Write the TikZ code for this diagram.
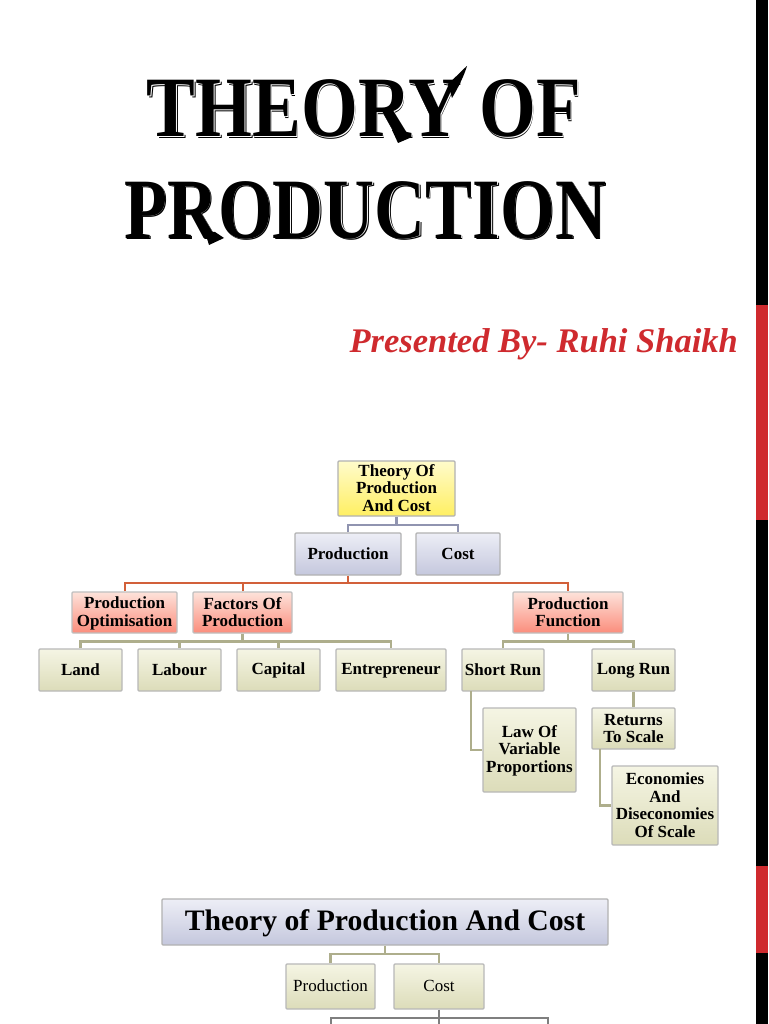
\documentclass[tikz,border=0pt]{standalone}
\usepackage{fontspec}
\setmainfont{Liberation Serif}
\usetikzlibrary{calc}
\definecolor{stripred}{HTML}{CF2A2E}
\definecolor{bluebus}{HTML}{9094B0}
\definecolor{orangebus}{HTML}{D2603A}
\definecolor{olivebus}{HTML}{AEAE8C}
\definecolor{greybus}{HTML}{7F7F7F}
\definecolor{FFFBCB}{HTML}{FFFBCB}\definecolor{FFEF62}{HTML}{FFEF62}
\definecolor{EDEEF6}{HTML}{EDEEF6}\definecolor{C4C7DD}{HTML}{C4C7DD}
\definecolor{FDE2DA}{HTML}{FDE2DA}\definecolor{FB8D7C}{HTML}{FB8D7C}
\definecolor{F5F5E4}{HTML}{F5F5E4}\definecolor{DCDCB9}{HTML}{DCDCB9}
\newcommand{\shadowtitle}[1]{{\color{black}\rlap{\kern1.6pt\raisebox{-1.6pt}{#1}}}{\color{white}\rlap{\kern0.9pt\raisebox{-0.9pt}{#1}}}{\color{black}#1}}
\newcommand{\mystrut}{\rule[-.18em]{0pt}{.98em}}
\tikzset{
  x=1pt,y=-1pt,
  boxbase/.style={draw=#1,line width=1.1pt,rounded corners=1pt,inner sep=0pt,align=center,
    font=\fontsize{17}{17.5}\selectfont\bfseries,text=black},
  yellowbox/.style={boxbase=black!30,top color=FFFBCB,bottom color=FFEF62},
  bluebox/.style={boxbase=black!30,top color=EDEEF6,bottom color=C4C7DD},
  redbox/.style={boxbase=black!25,top color=FDE2DA,bottom color=FB8D7C},
  greenbox/.style={boxbase=black!28,top color=F5F5E4,bottom color=DCDCB9},
  busblue/.style={draw=bluebus,line width=2.6pt},
  busorange/.style={draw=orangebus,line width=2pt},
  busolive/.style={draw=olivebus,line width=2.6pt},
  busgrey/.style={draw=greybus,line width=2.8pt},
  titletext/.style={anchor=base,inner sep=0pt,font=\fontsize{86}{86}\selectfont\bfseries},
}
\newcommand{\bx}[7]{\node[#1,minimum width=#4pt-#3pt,minimum height=#6pt-#5pt] (#2) at ({(#3+#4)/2},{(#5+#6)/2}) {\mystrut #7\mystrut};}
\begin{document}
\begin{tikzpicture}
\useasboundingbox (0,0) rectangle (768,1024);
\fill[white] (0,0) rectangle (768,1024);
% right strip
\fill[black] (756,0) rectangle (768,1024);
\fill[stripred] (756,305) rectangle (768,519.5);
\fill[stripred] (756,866) rectangle (768,953);
% titles
\node[titletext] (t1) at (364,137) {\scalebox{.85}[1]{\shadowtitle{THEORY OF}}};
\node[titletext] (t2) at (365,238) {\scalebox{.82}[1]{\shadowtitle{PRODUCTION}}};
% title flourishes: the swash of the Y and the long legs of the R
\fill[black] (448,84) .. controls (455,78) and (460,72) .. (467,66) .. controls (464,76) and (458,88) .. (452,98) -- cycle;
\fill[black] (392,130) -- (398,143) -- (412,137) -- (404,130) -- cycle;
\fill[black] (205,232) -- (209,245) -- (224,238) -- (215,232) -- cycle;
\node[anchor=base east,inner sep=0pt,text=stripred,font=\fontsize{34.5}{34.5}\selectfont\bfseries\itshape] (pres) at (738,352) {Presented By- Ruhi Shaikh};
% nodes
\bx{yellowbox}{root}{338}{455}{461}{516}{Theory Of\\Production\\And Cost}
\bx{bluebox}{prod}{295}{401}{533}{575}{Production}
\bx{bluebox}{cost}{416}{500}{533}{575}{Cost}
\bx{redbox}{opt}{72}{177}{592}{633}{Production\\Optimisation}
\bx{redbox}{fac}{193}{292}{592}{633}{Factors Of\\Production}
\bx{redbox}{func}{513}{623}{592}{633}{Production\\Function}
\bx{greenbox}{land}{39}{122}{649}{691}{Land}
\bx{greenbox}{lab}{138}{221}{649}{691}{Labour}
\bx{greenbox}{cap}{237}{320}{649}{691}{Capital}
\bx{greenbox}{ent}{336}{446}{649}{691}{Entrepreneur}
\bx{greenbox}{short}{462}{544}{649}{691}{Short Run}
\bx{greenbox}{long}{592}{675}{649}{691}{Long Run}
\bx{greenbox}{law}{483}{576}{708}{792}{Law Of\\Variable\\Proportions}
\bx{greenbox}{ret}{592}{675}{708}{749}{Returns\\To Scale}
\bx{greenbox}{econ}{612}{718}{766}{845}{Economies\\And\\Diseconomies\\Of Scale}
\bx{bluebox,font=\fontsize{29.7}{30}\selectfont\bfseries}{head}{162}{608}{899}{945}{Theory of Production And Cost}
\bx{greenbox,font=\fontsize{17}{17.5}\selectfont}{prodb}{286}{375}{964}{1009}{Production}
\bx{greenbox,font=\fontsize{17}{17.5}\selectfont}{costb}{394}{484}{964}{1009}{Cost}
% bus levels
\coordinate (b1) at (0,525);
\coordinate (b2) at (0,582.5);
\coordinate (b3) at (0,641.5);
\coordinate (b4) at (0,954);
\coordinate (b5) at (0,1018);
\coordinate (dropl) at (331,1024);
\coordinate (dropm) at (439,1024);
\coordinate (dropr) at (548,1024);
\coordinate (lawx) at (471,691);
\coordinate (econx) at (600,749);
% connectors
\draw[busblue] (root.south) -- (root.south |- b1);
\draw[busblue] (prod.north) -- (prod.north |- b1) -- (cost.north |- b1) -- (cost.north);
\draw[busorange] (prod.south) -- (prod.south |- b2);
\draw[busorange] (opt.north) -- (opt.north |- b2) -- (func.north |- b2) -- (func.north);
\draw[busorange] (fac.north) -- (fac.north |- b2);
\draw[busolive] (fac.south) -- (fac.south |- b3);
\draw[busolive] (land.north) -- (land.north |- b3) -- (ent.north |- b3) -- (ent.north);
\draw[busolive] (lab.north) -- (lab.north |- b3);
\draw[busolive] (cap.north) -- (cap.north |- b3);
\draw[busolive] (func.south) -- (func.south |- b3);
\draw[busolive] (short.north) -- (short.north |- b3) -- (long.north |- b3) -- (long.north);
\draw[busolive] (lawx) |- (law.west);
\draw[busolive] (long.south) -- (ret.north);
\draw[busolive] (econx) |- (econ.west);
\draw[busolive] (head.south) -- (head.south |- b4);
\draw[busolive] (prodb.north) -- (prodb.north |- b4) -- (costb.north |- b4) -- (costb.north);
\draw[busgrey] (costb.south) -- (dropm);
\draw[busgrey] (dropl) -- (dropl |- b5) -- (dropr |- b5) -- (dropr);
\end{tikzpicture}
\end{document}
